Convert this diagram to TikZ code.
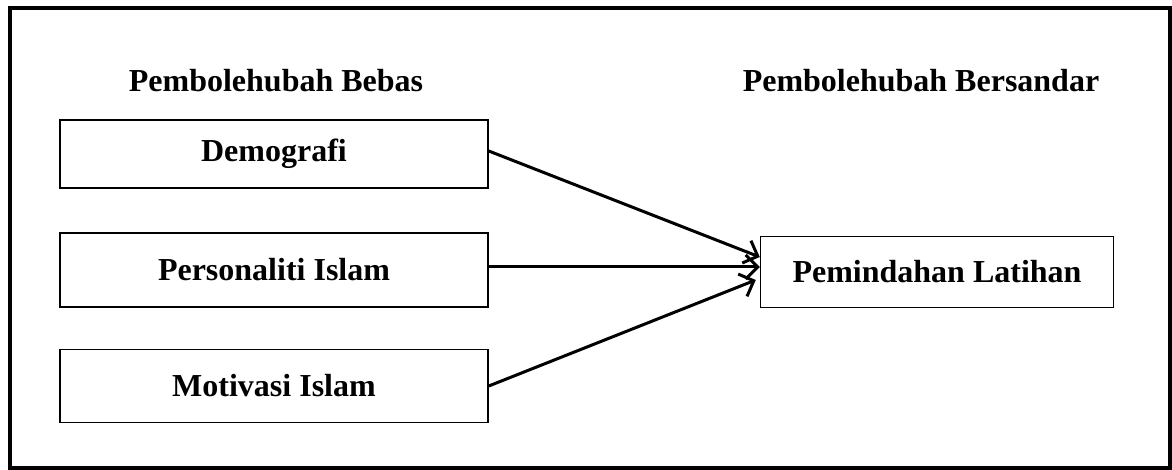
\documentclass[tikz,border=0pt]{standalone}
\usepackage{fontspec}
\setmainfont{Liberation Serif}
\usetikzlibrary{arrows.meta,calc}
\begin{document}
\begin{tikzpicture}[x=1pt,y=-1pt,
  lbl/.style={font=\fontsize{32}{36}\selectfont\bfseries, inner sep=0pt},
  varbox/.style={draw, line width=1.5pt, inner sep=0pt, font=\fontsize{32}{36}\selectfont\bfseries},
  link/.style={line width=3pt, -{Straight Barb[length=12pt,width=24pt,line width=3pt]}}]
\useasboundingbox (0,0) rectangle (1172,470);
\draw[line width=4.5pt] (10,8) rectangle (1170,468);
\node[lbl] (tl) at (276,81) {Pembolehubah Bebas};
\node[lbl] (tr) at (921,81) {Pembolehubah Bersandar};
\node[varbox, minimum width=428pt, minimum height=68pt] (demo) at (274,154) {Demografi};
\node[varbox, minimum width=428pt, minimum height=74pt] (pers) at (274,270) {Personaliti Islam};
\node[varbox, minimum width=428pt, minimum height=73pt] (moti) at (274,386) {Motivasi Islam};
\node[varbox, minimum width=353pt, minimum height=71pt] (pem) at (937,272) {Pemindahan Latihan};
\coordinate (s1) at ($(demo.east)+(0,-3)$);
\coordinate (s2) at ($(pers.east)+(0,-3)$);
\coordinate (s3) at (moti.east);
\coordinate (t1) at ($(pem.west)+(0,-15)$);
\coordinate (t2) at ($(pem.west)+(0,-5)$);
\coordinate (t3) at ($(pem.west)+(-4,8)$);
\draw[link] (s1) -- (t1);
\draw[link] (s2) -- (t2);
\draw[link] (s3) -- (t3);
\end{tikzpicture}
\end{document}
